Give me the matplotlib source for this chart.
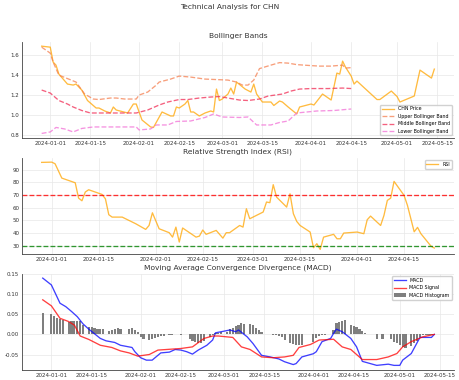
import pandas as pd
import numpy as np
import matplotlib
matplotlib.use('Agg')
import matplotlib.pyplot as plt


def d(md):
    # 'MM-DD' -> timestamp, december belongs to 2023
    return pd.Timestamp(('2023-' if md.startswith('12') else '2024-') + md)


price_dates = ['12-29', '01-01', '01-02', '01-03', '01-04', '01-07', '01-09', '01-10', '01-12', '01-14',
               '01-17', '01-18', '01-20', '01-22', '01-23', '01-24', '01-28', '01-30', '01-31', '02-02',
               '02-05', '02-06', '02-09', '02-12', '02-13', '02-14', '02-15', '02-17', '02-18', '02-19',
               '02-20', '02-22', '02-24', '02-26', '02-27', '02-28', '02-29', '03-01', '03-03', '03-04',
               '03-05', '03-06', '03-09', '03-11', '03-12', '03-13', '03-15', '03-18', '03-19', '03-21',
               '03-22', '03-24', '03-27', '03-28', '04-01', '04-02', '04-05', '04-08', '04-10', '04-11',
               '04-12', '04-13', '04-15', '04-16', '04-17', '04-24', '04-25', '04-29', '05-01', '05-02',
               '05-07', '05-09', '05-13', '05-14']
price = [1.69, 1.68, 1.53, 1.50, 1.41, 1.31, 1.30, 1.31, 1.25, 1.145,
         1.07, 1.07, 1.04, 1.02, 1.08, 1.05, 1.02, 1.11, 1.11, 0.95,
         0.88, 0.875, 1.03, 0.99, 0.99, 1.08, 1.07, 1.11, 1.145, 1.03,
         1.03, 0.99, 1.02, 1.04, 1.03, 1.26, 1.145, 1.16, 1.21, 1.27,
         1.21, 1.33, 1.26, 1.23, 1.31, 1.21, 1.13, 1.13, 1.095, 1.14,
         1.13, 1.08, 1.01, 1.08, 1.11, 1.10, 1.21, 1.15, 1.42, 1.41,
         1.54, 1.48, 1.39, 1.31, 1.34, 1.155, 1.155, 1.24, 1.185, 1.13,
         1.19, 1.45, 1.37, 1.46]

upper_dates = ['12-29', '01-01', '01-02', '01-04', '01-07', '01-10', '01-13', '01-16', '01-18', '01-22',
               '01-24', '01-27', '01-31', '02-01', '02-04', '02-07', '02-08', '02-12', '02-15', '02-19',
               '02-24', '02-28', '03-03', '03-06', '03-08', '03-10', '03-12', '03-14', '03-18', '03-21',
               '03-24', '03-27', '04-01', '04-04', '04-08', '04-12', '04-13', '04-15']
upper = [1.68, 1.62, 1.53, 1.40, 1.365, 1.33, 1.21, 1.16, 1.155, 1.17,
         1.17, 1.16, 1.16, 1.20, 1.23, 1.30, 1.33, 1.36, 1.39, 1.38,
         1.36, 1.355, 1.35, 1.33, 1.30, 1.30, 1.35, 1.465, 1.50, 1.525,
         1.52, 1.505, 1.495, 1.49, 1.49, 1.50, 1.47, 1.475]

middle_dates = ['12-29', '01-01', '01-04', '01-07', '01-09', '01-12', '01-15', '01-18', '01-22', '01-27',
                '01-31', '02-04', '02-08', '02-11', '02-15', '02-18', '02-22', '02-26', '02-29', '03-03',
                '03-07', '03-10', '03-14', '03-17', '03-22', '03-25', '03-28', '04-01', '04-07', '04-12',
                '04-15']
middle = [1.25, 1.22, 1.145, 1.11, 1.08, 1.045, 1.02, 1.02, 1.02, 1.02,
          1.02, 1.05, 1.10, 1.13, 1.155, 1.155, 1.17, 1.18, 1.185, 1.17,
          1.15, 1.145, 1.16, 1.19, 1.21, 1.24, 1.26, 1.265, 1.265, 1.27,
          1.265]

lower_dates = ['12-29', '01-01', '01-03', '01-06', '01-09', '01-12', '01-16', '01-31', '02-01', '02-05',
               '02-07', '02-11', '02-14', '02-19', '02-24', '02-27', '03-01', '03-07', '03-10', '03-13',
               '03-18', '03-21', '03-24', '03-27', '04-03', '04-09', '04-15']
lower = [0.815, 0.83, 0.875, 0.86, 0.83, 0.865, 0.88, 0.88, 0.85, 0.86,
         0.90, 0.90, 0.935, 0.94, 0.975, 1.01, 0.98, 0.975, 0.98, 0.90,
         0.90, 0.925, 0.94, 1.02, 1.04, 1.045, 1.06]

rsi_dates = ['12-29', '01-01', '01-02', '01-04', '01-08', '01-09', '01-10', '01-11', '01-12', '01-16',
             '01-17', '01-18', '01-19', '01-22', '01-24', '01-26', '01-29', '01-30', '01-31', '02-02',
             '02-05', '02-06', '02-07', '02-08', '02-09', '02-13', '02-14', '02-15', '02-16', '02-19',
             '02-21', '02-22', '02-23', '02-26', '02-27', '02-28', '02-29', '03-04', '03-05', '03-06',
             '03-07', '03-08', '03-11', '03-12', '03-13', '03-14', '03-15', '03-18', '03-19', '03-20',
             '03-21', '03-22', '03-25', '03-26', '03-27', '03-28', '04-01', '04-03', '04-04', '04-05',
             '04-08', '04-09', '04-10', '04-11', '04-12', '04-15', '04-16', '04-18', '04-19', '04-20',
             '04-23', '04-24']
rsi = [95.8, 96.0, 94.7, 83.4, 79.7, 67.6, 65.5, 72.4, 74.2, 70.5,
       67.0, 54.5, 52.6, 52.6, 50.0, 47.4, 42.9, 46.0, 56.0, 43.4,
       40.3, 36.8, 44.7, 32.9, 44.0, 36.8, 37.6, 42.4, 39.0, 42.1,
       36.0, 40.3, 40.3, 46.0, 44.7, 59.2, 51.3, 56.6, 64.5, 64.0,
       78.2, 68.4, 60.5, 71.0, 55.3, 49.2, 46.0, 40.8, 28.4, 31.6,
       27.1, 36.8, 39.0, 35.5, 35.5, 40.0, 40.8, 39.5, 50.5, 53.4,
       46.0, 54.0, 65.8, 67.6, 80.8, 69.7, 61.8, 41.0, 44.5, 39.5,
       29.7, 28.2]

macd_dates = ['12-29', '01-01', '01-04', '01-06', '01-08', '01-10', '01-12', '01-14', '01-18', '01-20',
              '01-23', '01-25', '01-29', '01-30', '02-01', '02-03', '02-05', '02-08', '02-11', '02-13',
              '02-15', '02-17', '02-19', '02-21', '02-24', '02-26', '02-27', '02-29', '03-03', '03-05',
              '03-06', '03-09', '03-11', '03-14', '03-17', '03-20', '03-22', '03-25', '03-26', '03-28',
              '04-01', '04-02', '04-04', '04-07', '04-08', '04-09', '04-11', '04-14', '04-16', '04-18',
              '04-23', '04-27', '04-29', '05-01', '05-02', '05-05', '05-08', '05-12', '05-13']
macd = [0.14, 0.123, 0.0775, 0.069, 0.057, 0.044, 0.026, 0.013, -0.01, -0.016,
        -0.02, -0.027, -0.0325, -0.043, -0.058, -0.064, -0.064, -0.046, -0.044, -0.0375,
        -0.039, -0.043, -0.049, -0.039, -0.027, -0.014, 0.004, 0.0067, 0.011, 0.0067,
        0.011, -0.006, -0.0225, -0.052, -0.056, -0.061, -0.068, -0.075, -0.0725, -0.056,
        -0.048, -0.043, -0.018, -0.01, 0.0025, 0.013, 0.0067, -0.01, -0.031, -0.067,
        -0.077, -0.074, -0.077, -0.077, -0.064, -0.0475, -0.0075, -0.0075, 0.0]

signal_dates = ['12-29', '01-01', '01-04', '01-07', '01-09', '01-11', '01-14', '01-18', '01-22', '01-25',
                '01-28', '01-31', '02-04', '02-07', '02-11', '02-15', '02-19', '02-23', '02-26', '02-28',
                '03-04', '03-07', '03-10', '03-14', '03-18', '03-22', '03-25', '03-27', '03-31', '04-03',
                '04-07', '04-08', '04-11', '04-14', '04-18', '04-23', '04-27', '04-30', '05-02', '05-05',
                '05-09', '05-13']
signal = [0.086, 0.071, 0.04, 0.032, 0.023, -0.004, -0.0125, -0.027, -0.0325, -0.041,
          -0.046, -0.054, -0.05, -0.039, -0.037, -0.035, -0.031, -0.01, -0.004, -0.004,
          -0.0075, -0.031, -0.0375, -0.056, -0.058, -0.056, -0.052, -0.0325, -0.025, -0.014,
          -0.0125, -0.012, -0.031, -0.0375, -0.0625, -0.0625, -0.056, -0.0475, -0.031, -0.018,
          -0.006, 0.0]

hist_dates = ['12-29', '01-01', '01-02', '01-03', '01-04', '01-05', '01-07', '01-08', '01-09', '01-10',
              '01-11', '01-12', '01-14', '01-15', '01-16', '01-17', '01-18', '01-19', '01-21', '01-22',
              '01-23', '01-24', '01-25', '01-28', '01-29', '01-30', '01-31', '02-01', '02-02', '02-04',
              '02-05', '02-06', '02-07', '02-08', '02-09', '02-11', '02-12', '02-15', '02-18', '02-19',
              '02-20', '02-21', '02-22', '02-23', '02-25', '02-26', '02-27', '02-28', '02-29', '03-02',
              '03-03', '03-04', '03-05', '03-06', '03-07', '03-08', '03-10', '03-11', '03-12', '03-13',
              '03-14', '03-17', '03-18', '03-19', '03-20', '03-21', '03-22', '03-24', '03-25', '03-26',
              '03-27', '03-28', '04-01', '04-02', '04-03', '04-04', '04-05', '04-08', '04-09', '04-10',
              '04-11', '04-12', '04-14', '04-15', '04-16', '04-17', '04-18', '04-19', '04-23', '04-25',
              '04-28', '04-29', '04-30', '05-01', '05-02', '05-03', '05-05', '05-06', '05-07', '05-08',
              '05-09', '05-10', '05-11', '05-12']
hist = [0.054, 0.051, 0.046, 0.040, 0.0375, 0.036, 0.032, 0.033, 0.033, 0.033,
        0.033, 0.023, 0.019, 0.0175, 0.015, 0.013, 0.0125, 0.0125, 0.008, 0.011,
        0.013, 0.015, 0.0125, 0.0125, 0.015, 0.011, 0.005, -0.006, -0.0125, -0.014,
        -0.012, -0.008, -0.006, -0.004, -0.004, -0.002, -0.001, -0.002, -0.0125, -0.016,
        -0.018, -0.021, -0.0225, -0.016, -0.006, -0.0025, 0.0025, 0.004, 0.006, 0.0067,
        0.0125, 0.0167, 0.021, 0.024, 0.0275, 0.026, 0.025, 0.023, 0.0167, 0.011,
        0.005, 0.0017, -0.0005, -0.002, -0.004, -0.0075, -0.014, -0.021, -0.025, -0.0267,
        -0.0267, -0.0267, -0.018, -0.01, -0.004, -0.002, -0.0025, 0.011, 0.0275, 0.03,
        0.033, 0.036, 0.023, 0.021, 0.0175, 0.014, 0.009, 0.004, -0.0125, -0.0125,
        -0.0125, -0.018, -0.0225, -0.0267, -0.031, -0.033, -0.029, -0.0225, -0.016, -0.0075,
        -0.002, -0.001, -0.001, -0.001]

TICK_FS = 4
TITLE_FS = 5.4
LEG_FS = 3.4
LW = 0.95

plt.rcParams['font.family'] = 'DejaVu Sans'
fig, axes = plt.subplots(3, 1, figsize=(4.59, 3.8), dpi=100)
fig.subplots_adjust(left=0.048, right=0.989, top=0.89, bottom=0.027, hspace=0.208)
fig.suptitle('Technical Analysis for CHN', fontsize=TITLE_FS, y=0.99, color='#333333')

ax1, ax2, ax3 = axes

ax1.plot([d(x) for x in price_dates], price, color='orange', alpha=0.75, lw=LW, label='CHN Price')
ax1.plot([d(x) for x in upper_dates], upper, '--', color='#f57f4f', alpha=0.75, lw=LW,
         label='Upper Bollinger Band')
ax1.plot([d(x) for x in middle_dates], middle, '--', color='#f2385e', alpha=0.8, lw=LW,
         label='Middle Bollinger Band')
ax1.plot([d(x) for x in lower_dates], lower, '--', color='#f26fd6', alpha=0.75, lw=LW,
         label='Lower Bollinger Band')
ax1.set_title('Bollinger Bands', fontsize=TITLE_FS, pad=3, color='#333333')
ax1.set_yticks([0.8, 1.0, 1.2, 1.4, 1.6])
ax1.legend(loc='lower right', fontsize=LEG_FS, framealpha=0.9, handlelength=2.5)

ax2.plot([d(x) for x in rsi_dates], rsi, color='orange', alpha=0.75, lw=LW, label='RSI')
ax2.axhline(70, color='red', ls='--', lw=LW, alpha=0.8)
ax2.axhline(30, color='green', ls='--', lw=LW, alpha=0.8)
ax2.set_title('Relative Strength Index (RSI)', fontsize=TITLE_FS, pad=3, color='#333333')
ax2.set_yticks([30, 40, 50, 60, 70, 80, 90])
ax2.legend(loc='upper right', fontsize=LEG_FS, framealpha=0.9, handlelength=2.5)

ax3.plot([d(x) for x in macd_dates], macd, color='blue', alpha=0.75, lw=LW, label='MACD')
ax3.plot([d(x) for x in signal_dates], signal, color='red', alpha=0.75, lw=LW, label='MACD Signal')
ax3.bar([d(x) for x in hist_dates], hist, width=0.75, color='dimgray', alpha=0.85,
        label='MACD Histogram')
ax3.set_title('Moving Average Convergence Divergence (MACD)', fontsize=TITLE_FS, pad=3,
              color='#333333')
ax3.set_yticks([-0.05, 0.0, 0.05, 0.10, 0.15])
ax3.yaxis.set_major_formatter(matplotlib.ticker.FormatStrFormatter('%.2f'))
ax3.legend(loc='upper right', fontsize=LEG_FS, framealpha=0.9, handlelength=2.5)

for ax in axes:
    ax.grid(True, color='#e8e8e8', lw=0.5)
    ax.set_axisbelow(True)
    ax.tick_params(labelsize=TICK_FS, length=0, pad=2, colors='#333333')
    for s in ['top', 'right']:
        ax.spines[s].set_visible(False)
    for s in ['left', 'bottom']:
        ax.spines[s].set_color('#444444')
        ax.spines[s].set_linewidth(0.6)

fig.savefig('out.png', dpi=100)
